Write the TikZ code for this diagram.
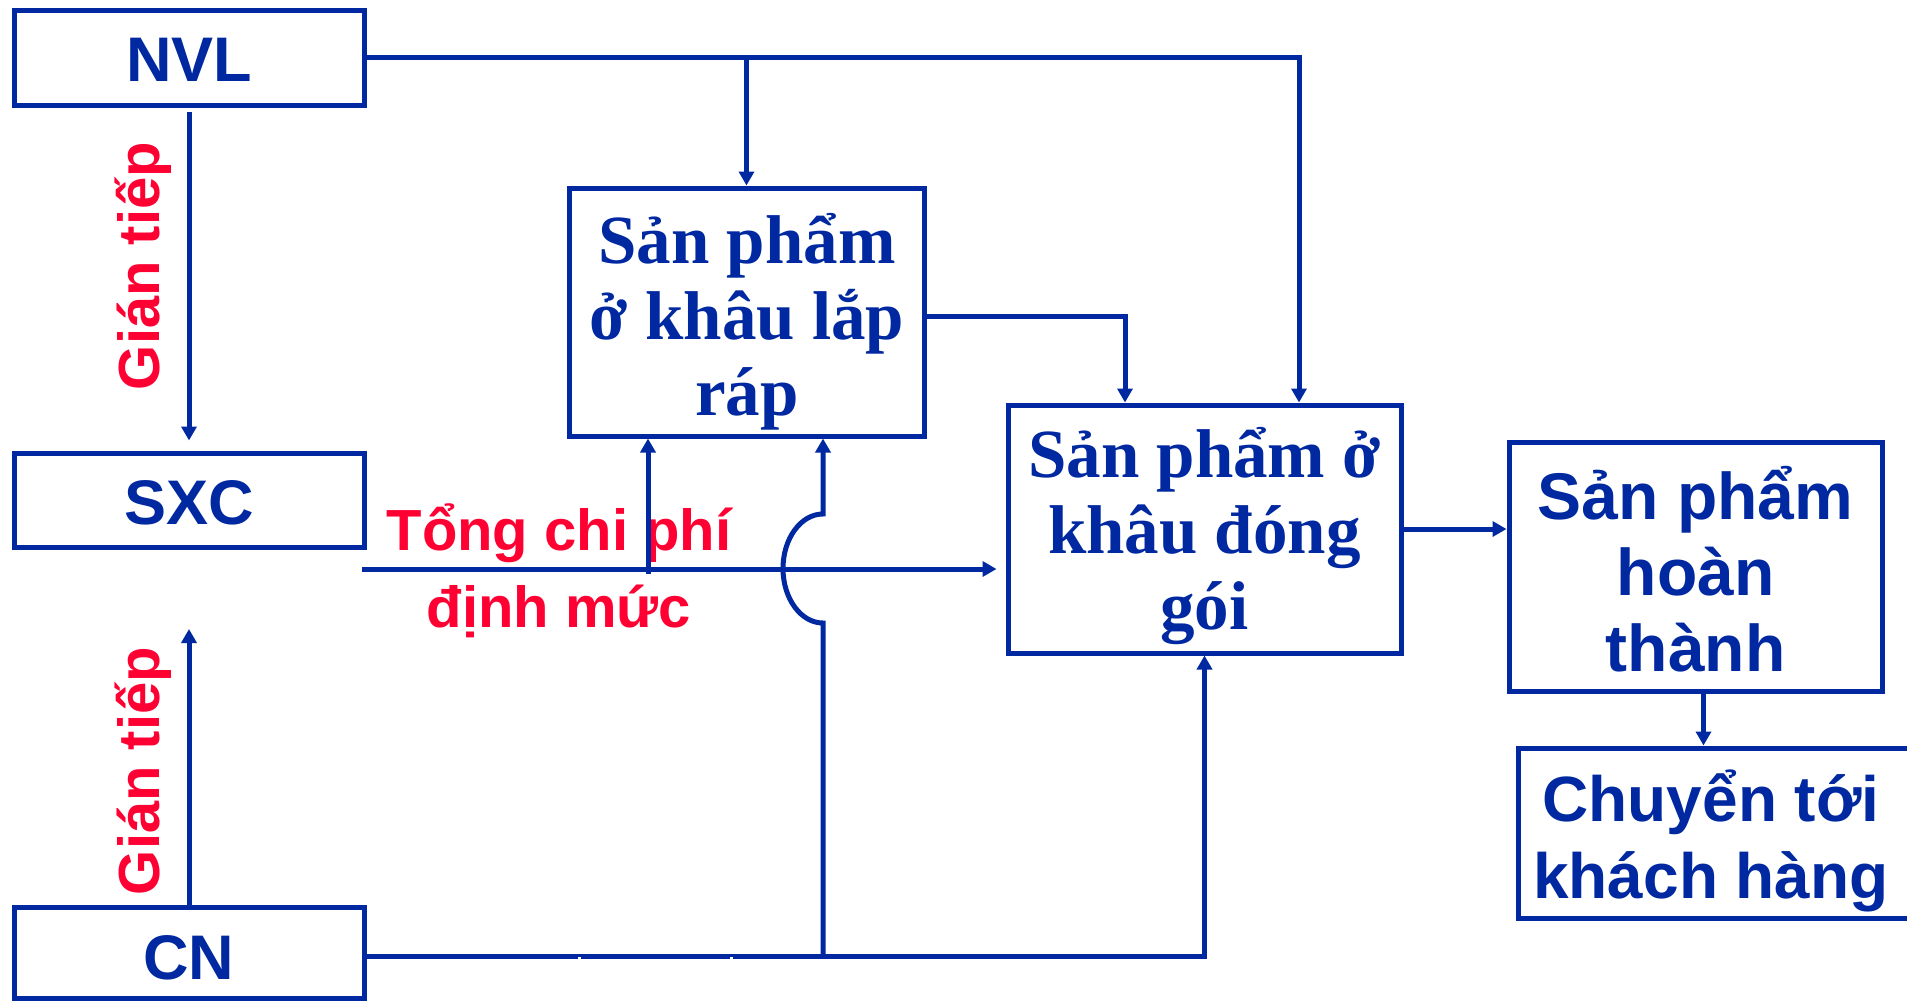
\documentclass[tikz,border=0pt]{standalone}
\usepackage{fontspec}
\setmainfont{Liberation Serif}
\setsansfont{Liberation Sans}
\usetikzlibrary{arrows.meta}
\definecolor{flowblue}{RGB}{0,40,160}
\definecolor{costred}{RGB}{255,0,51}
\begin{document}
\begin{tikzpicture}[x=1pt,y=-1pt,
  box/.style={draw=flowblue, line width=5pt, inner sep=0pt},
  sanstext/.style={text=flowblue, align=center, inner sep=0pt, font=\sffamily\bfseries\fontsize{63}{76}\selectfont},
  seriftext/.style={text=flowblue, align=center, inner sep=0pt, font=\rmfamily\bfseries\fontsize{69}{76}\selectfont},
  conn/.style={draw=flowblue, line width=5pt},
  arr/.style={conn, -{Triangle[length=14pt,width=15pt]}},
  redlbl/.style={text=costred, font=\sffamily\bfseries\fontsize{58}{77}\selectfont, align=center, inner sep=0pt}]
\useasboundingbox (0,0) rectangle (1907,1001);

% cost sources
\node[box, minimum width=350pt, minimum height=95pt] (nvl) at (189,57.5) {};
\node[sanstext] (nvltxt) at (189,60) {NVL};
\node[box, minimum width=350pt, minimum height=94pt] (sxc) at (189,500) {};
\node[sanstext] (sxctxt) at (189,502.5) {SXC};
\node[box, minimum width=350pt, minimum height=91pt] (cn) at (189,952.5) {};
\node[sanstext] (cntxt) at (189,957.5) {CN};

% production stages
\node[box, minimum width=355pt, minimum height=248pt] (lr) at (746.5,312) {};
\node[seriftext] (lrtxt) at (747,322) {Sản phẩm\\ở khâu lắp\\ráp};
\node[box, minimum width=393pt, minimum height=248pt] (dg) at (1204.5,529) {};
\node[seriftext] (dgtxt) at (1204.5,536) {Sản phẩm ở\\khâu đóng\\gói};
\node[box, minimum width=373pt, minimum height=249pt] (ht) at (1695.5,566.5) {};
\node[sanstext, font=\sffamily\bfseries\fontsize{66}{76}\selectfont] (httxt) at (1695.5,569.5) {Sản phẩm\\hoàn\\thành};
\node[box, minimum width=402pt, minimum height=170pt] (kh) at (1719,833) {};
\node[sanstext, font=\sffamily\bfseries\fontsize{64}{77}\selectfont] (khtxt) at (1711,841) {Chuyển tới\\khách hàng};

% labels
\node[redlbl] (tong) at (559,571) {Tổng chi phí\\định mức};
\node[redlbl, rotate=90] (gt1) at (143,266) {Gián tiếp};
\node[redlbl, rotate=90] (gt2) at (143,771) {Gián tiếp};

% free ends
\coordinate (gtend) at (189,629);
\coordinate (tstart) at (362,569);
\coordinate (up1) at (648,574);
\coordinate (jb) at (823,956);

% material flow
\draw[arr] (nvl.east) -| ([xshift=94.5pt]dg.north);
\draw[arr] (nvl.east -| lr.north) -- (lr.north);
\draw[arr] ([yshift=-4pt]lr.east) -| ([xshift=-79.5pt]dg.north);
\draw[arr] (dg.east) -- (ht.west |- dg.east);
\draw[arr] ([xshift=8pt]ht.south) -- ([xshift=8pt]ht.south |- kh.north);

% indirect costs
\draw[arr, shorten <=4pt, shorten >=10pt] (nvl.south) -- (sxc.north);
\draw[arr] (cn.north) -- (gtend);

% standard cost line
\draw[arr, shorten >=9pt] (tstart) -- (dg.west |- tstart);
\draw[arr] (up1) -- (up1 |- lr.south);

% labour line with a bridge over the cost line
\draw[arr] ([yshift=-3.5pt]cn.east) -| (dg.south);
\draw[arr] (jb) -- (823,623)
  .. controls (800.9,623) and (783,598.6) .. (783,568.5)
  .. controls (783,538.4) and (800.9,514) .. (823,514)
  -- (jb |- lr.south);

% small notches on the labour line
\fill[white] (577.5,956.5) rectangle (580.5,959.5);
\fill[white] (729.5,956.5) rectangle (732.5,959.5);
\end{tikzpicture}
\end{document}
